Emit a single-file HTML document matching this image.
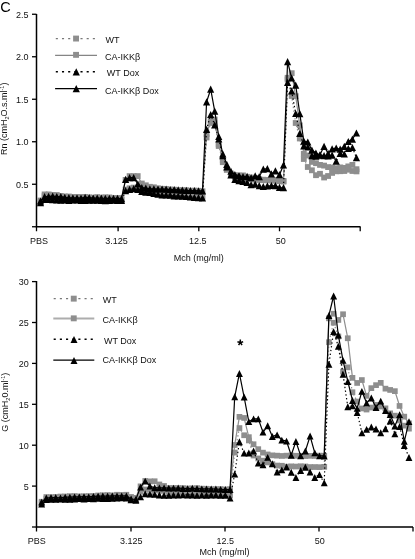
<!DOCTYPE html>
<html><head><meta charset="utf-8"><title>Chart</title>
<style>
html,body{margin:0;padding:0;background:#fff;}
body{width:415px;height:559px;overflow:hidden;font-family:"Liberation Sans",sans-serif;}
svg{display:block;will-change:transform;opacity:0.999}
.t{font-family:"Liberation Sans",sans-serif;font-size:9px;fill:#111;}
</style></head><body>
<svg width="415" height="559" viewBox="0 0 415 559">
<rect width="415" height="559" fill="#fff"/>
<path d="M36.5 14V226.75H360.5" fill="none" stroke="#000" stroke-width="1.5"/>
<line x1="32" y1="226.75" x2="36.5" y2="226.75" stroke="#000" stroke-width="1.3"/>
<line x1="32" y1="184.25" x2="36.5" y2="184.25" stroke="#000" stroke-width="1.3"/>
<text x="28.4" y="187.85" class="t" text-anchor="end">0.5</text>
<line x1="32" y1="141.75" x2="36.5" y2="141.75" stroke="#000" stroke-width="1.3"/>
<text x="28.4" y="145.35" class="t" text-anchor="end">1.0</text>
<line x1="32" y1="99.25" x2="36.5" y2="99.25" stroke="#000" stroke-width="1.3"/>
<text x="28.4" y="102.85" class="t" text-anchor="end">1.5</text>
<line x1="32" y1="56.75" x2="36.5" y2="56.75" stroke="#000" stroke-width="1.3"/>
<text x="28.4" y="60.35" class="t" text-anchor="end">2.0</text>
<line x1="32" y1="14.25" x2="36.5" y2="14.25" stroke="#000" stroke-width="1.3"/>
<text x="28.4" y="17.85" class="t" text-anchor="end">2.5</text>
<line x1="36.5" y1="226.75" x2="36.5" y2="231.25" stroke="#000" stroke-width="1.3"/>
<text x="39" y="243.5" class="t" text-anchor="middle">PBS</text>
<line x1="118.1" y1="226.75" x2="118.1" y2="231.25" stroke="#000" stroke-width="1.3"/>
<text x="116.4" y="243.5" class="t" text-anchor="middle">3.125</text>
<line x1="198.8" y1="226.75" x2="198.8" y2="231.25" stroke="#000" stroke-width="1.3"/>
<text x="197.8" y="243.5" class="t" text-anchor="middle">12.5</text>
<line x1="279.5" y1="226.75" x2="279.5" y2="231.25" stroke="#000" stroke-width="1.3"/>
<text x="280.7" y="243.5" class="t" text-anchor="middle">50</text>
<line x1="360.2" y1="226.75" x2="360.2" y2="231.25" stroke="#000" stroke-width="1.3"/>
<text x="198.8" y="260.5" class="t" text-anchor="middle">Mch (mg/ml)</text>
<text transform="translate(7.3,118.8) rotate(-90)" class="t" text-anchor="middle">Rn (cmH<tspan dy="2" font-size="5.5">2</tspan><tspan dy="-2">O.s.ml</tspan><tspan dy="-3" font-size="5.5">-1</tspan><tspan dy="3">)</tspan></text>
<line x1="55.1" y1="38.6" x2="97" y2="38.6" stroke="#787878" stroke-width="1.4" stroke-dasharray="2.1 4.07" stroke-dashoffset="5.47"/>
<rect x="73.1" y="35.6" width="5.9" height="5.9" fill="#8e8e8e"/>
<text x="105.5" y="43.4" class="t">WT</text>
<line x1="55.1" y1="55.45" x2="97" y2="55.45" stroke="#858585" stroke-width="1.25"/>
<rect x="73.1" y="51.9" width="5.9" height="5.9" fill="#8e8e8e"/>
<text x="105" y="59.8" class="t">CA-IKKβ</text>
<line x1="55.1" y1="71.7" x2="97" y2="71.7" stroke="#000" stroke-width="1.4" stroke-dasharray="2.1 4.07" stroke-dashoffset="5.47"/>
<path d="M76.25 68.25L79.90 75.55H72.60Z" fill="#000"/>
<text x="106.8" y="75.9" class="t">WT Dox</text>
<line x1="55.1" y1="88.5" x2="97" y2="88.5" stroke="#000" stroke-width="1.25"/>
<path d="M76.25 85.05L79.90 92.35H72.60Z" fill="#000"/>
<text x="105" y="93.7" class="t">CA-IKKβ Dox</text>
<polyline points="40.5,201.4 44.6,196.1 48.6,196.5 52.7,196.5 56.8,197.0 60.8,197.9 64.8,198.5 68.9,198.5 72.9,199.0 77.0,199.1 81.0,198.7 85.1,199.1 89.2,199.0 93.2,199.3 97.2,199.3 101.3,199.7 105.3,199.5 109.4,199.4 113.5,199.8 117.5,199.7 121.5,199.9 125.6,189.6 129.6,188.3 133.7,187.6 137.8,189.1 141.8,190.5 145.8,190.8 149.9,191.9 153.9,192.6 158.0,193.3 162.1,193.8 166.1,193.9 170.2,194.6 174.2,194.6 178.2,195.2 182.3,195.2 186.3,195.5 190.4,196.3 194.4,196.6 198.5,196.9 202.5,196.7 206.6,137.5 210.7,123.0 214.7,123.2 218.8,146.0 222.8,162.2 226.8,169.9 230.9,174.8 234.9,177.4 239.0,178.0 243.0,178.6 247.1,178.9 251.1,179.3 255.2,179.7 259.2,179.9 263.3,180.2 267.4,180.2 271.4,180.5 275.4,180.6 279.5,181.2 283.5,181.6 287.6,79.5 291.6,96.0 295.7,123.0 299.8,138.5 303.8,159.0 307.8,167.0 311.9,170.3 315.9,175.2 320.0,173.8 324.1,177.5 328.1,176.0 332.1,172.9 336.2,171.3 340.2,171.2 344.3,171.0 348.3,169.7 352.4,171.0 356.4,171.4" fill="none" stroke="#8e8e8e" stroke-width="1.2" stroke-dasharray="1.4 2.4"/>
<rect x="37.6" y="198.5" width="5.8" height="5.8" fill="#8e8e8e"/>
<rect x="41.7" y="193.2" width="5.8" height="5.8" fill="#8e8e8e"/>
<rect x="45.8" y="193.6" width="5.8" height="5.8" fill="#8e8e8e"/>
<rect x="49.8" y="193.6" width="5.8" height="5.8" fill="#8e8e8e"/>
<rect x="53.9" y="194.1" width="5.8" height="5.8" fill="#8e8e8e"/>
<rect x="57.9" y="195.0" width="5.8" height="5.8" fill="#8e8e8e"/>
<rect x="61.9" y="195.6" width="5.8" height="5.8" fill="#8e8e8e"/>
<rect x="66.0" y="195.6" width="5.8" height="5.8" fill="#8e8e8e"/>
<rect x="70.0" y="196.1" width="5.8" height="5.8" fill="#8e8e8e"/>
<rect x="74.1" y="196.2" width="5.8" height="5.8" fill="#8e8e8e"/>
<rect x="78.1" y="195.8" width="5.8" height="5.8" fill="#8e8e8e"/>
<rect x="82.2" y="196.2" width="5.8" height="5.8" fill="#8e8e8e"/>
<rect x="86.2" y="196.1" width="5.8" height="5.8" fill="#8e8e8e"/>
<rect x="90.3" y="196.4" width="5.8" height="5.8" fill="#8e8e8e"/>
<rect x="94.3" y="196.4" width="5.8" height="5.8" fill="#8e8e8e"/>
<rect x="98.4" y="196.8" width="5.8" height="5.8" fill="#8e8e8e"/>
<rect x="102.4" y="196.6" width="5.8" height="5.8" fill="#8e8e8e"/>
<rect x="106.5" y="196.5" width="5.8" height="5.8" fill="#8e8e8e"/>
<rect x="110.5" y="196.9" width="5.8" height="5.8" fill="#8e8e8e"/>
<rect x="114.6" y="196.8" width="5.8" height="5.8" fill="#8e8e8e"/>
<rect x="118.6" y="197.0" width="5.8" height="5.8" fill="#8e8e8e"/>
<rect x="122.7" y="186.7" width="5.8" height="5.8" fill="#8e8e8e"/>
<rect x="126.7" y="185.4" width="5.8" height="5.8" fill="#8e8e8e"/>
<rect x="130.8" y="184.7" width="5.8" height="5.8" fill="#8e8e8e"/>
<rect x="134.8" y="186.2" width="5.8" height="5.8" fill="#8e8e8e"/>
<rect x="138.9" y="187.6" width="5.8" height="5.8" fill="#8e8e8e"/>
<rect x="142.9" y="187.9" width="5.8" height="5.8" fill="#8e8e8e"/>
<rect x="147.0" y="189.0" width="5.8" height="5.8" fill="#8e8e8e"/>
<rect x="151.0" y="189.7" width="5.8" height="5.8" fill="#8e8e8e"/>
<rect x="155.1" y="190.4" width="5.8" height="5.8" fill="#8e8e8e"/>
<rect x="159.2" y="190.9" width="5.8" height="5.8" fill="#8e8e8e"/>
<rect x="163.2" y="191.0" width="5.8" height="5.8" fill="#8e8e8e"/>
<rect x="167.2" y="191.7" width="5.8" height="5.8" fill="#8e8e8e"/>
<rect x="171.3" y="191.7" width="5.8" height="5.8" fill="#8e8e8e"/>
<rect x="175.3" y="192.3" width="5.8" height="5.8" fill="#8e8e8e"/>
<rect x="179.4" y="192.3" width="5.8" height="5.8" fill="#8e8e8e"/>
<rect x="183.4" y="192.6" width="5.8" height="5.8" fill="#8e8e8e"/>
<rect x="187.5" y="193.4" width="5.8" height="5.8" fill="#8e8e8e"/>
<rect x="191.5" y="193.7" width="5.8" height="5.8" fill="#8e8e8e"/>
<rect x="195.6" y="194.0" width="5.8" height="5.8" fill="#8e8e8e"/>
<rect x="199.6" y="193.8" width="5.8" height="5.8" fill="#8e8e8e"/>
<rect x="203.7" y="134.6" width="5.8" height="5.8" fill="#8e8e8e"/>
<rect x="207.8" y="120.1" width="5.8" height="5.8" fill="#8e8e8e"/>
<rect x="211.8" y="120.3" width="5.8" height="5.8" fill="#8e8e8e"/>
<rect x="215.8" y="143.1" width="5.8" height="5.8" fill="#8e8e8e"/>
<rect x="219.9" y="159.3" width="5.8" height="5.8" fill="#8e8e8e"/>
<rect x="223.9" y="167.0" width="5.8" height="5.8" fill="#8e8e8e"/>
<rect x="228.0" y="171.9" width="5.8" height="5.8" fill="#8e8e8e"/>
<rect x="232.0" y="174.5" width="5.8" height="5.8" fill="#8e8e8e"/>
<rect x="236.1" y="175.1" width="5.8" height="5.8" fill="#8e8e8e"/>
<rect x="240.1" y="175.7" width="5.8" height="5.8" fill="#8e8e8e"/>
<rect x="244.2" y="176.0" width="5.8" height="5.8" fill="#8e8e8e"/>
<rect x="248.2" y="176.4" width="5.8" height="5.8" fill="#8e8e8e"/>
<rect x="252.3" y="176.8" width="5.8" height="5.8" fill="#8e8e8e"/>
<rect x="256.4" y="177.0" width="5.8" height="5.8" fill="#8e8e8e"/>
<rect x="260.4" y="177.3" width="5.8" height="5.8" fill="#8e8e8e"/>
<rect x="264.5" y="177.3" width="5.8" height="5.8" fill="#8e8e8e"/>
<rect x="268.5" y="177.6" width="5.8" height="5.8" fill="#8e8e8e"/>
<rect x="272.6" y="177.7" width="5.8" height="5.8" fill="#8e8e8e"/>
<rect x="276.6" y="178.3" width="5.8" height="5.8" fill="#8e8e8e"/>
<rect x="280.6" y="178.7" width="5.8" height="5.8" fill="#8e8e8e"/>
<rect x="284.7" y="76.6" width="5.8" height="5.8" fill="#8e8e8e"/>
<rect x="288.8" y="93.1" width="5.8" height="5.8" fill="#8e8e8e"/>
<rect x="292.8" y="120.1" width="5.8" height="5.8" fill="#8e8e8e"/>
<rect x="296.9" y="135.6" width="5.8" height="5.8" fill="#8e8e8e"/>
<rect x="300.9" y="156.1" width="5.8" height="5.8" fill="#8e8e8e"/>
<rect x="304.9" y="164.1" width="5.8" height="5.8" fill="#8e8e8e"/>
<rect x="309.0" y="167.4" width="5.8" height="5.8" fill="#8e8e8e"/>
<rect x="313.1" y="172.3" width="5.8" height="5.8" fill="#8e8e8e"/>
<rect x="317.1" y="170.9" width="5.8" height="5.8" fill="#8e8e8e"/>
<rect x="321.2" y="174.6" width="5.8" height="5.8" fill="#8e8e8e"/>
<rect x="325.2" y="173.1" width="5.8" height="5.8" fill="#8e8e8e"/>
<rect x="329.2" y="170.0" width="5.8" height="5.8" fill="#8e8e8e"/>
<rect x="333.3" y="168.4" width="5.8" height="5.8" fill="#8e8e8e"/>
<rect x="337.4" y="168.3" width="5.8" height="5.8" fill="#8e8e8e"/>
<rect x="341.4" y="168.1" width="5.8" height="5.8" fill="#8e8e8e"/>
<rect x="345.4" y="166.8" width="5.8" height="5.8" fill="#8e8e8e"/>
<rect x="349.5" y="168.1" width="5.8" height="5.8" fill="#8e8e8e"/>
<rect x="353.6" y="168.5" width="5.8" height="5.8" fill="#8e8e8e"/>
<polyline points="40.5,200.5 44.6,194.4 48.6,194.4 52.7,194.9 56.8,195.0 60.8,195.9 64.8,196.4 68.9,196.5 72.9,197.0 77.0,197.0 81.0,197.0 85.1,196.9 89.2,197.4 93.2,197.6 97.2,197.1 101.3,197.6 105.3,197.3 109.4,197.4 113.5,197.9 117.5,197.9 121.5,198.0 125.6,179.9 129.6,176.1 133.7,176.1 137.8,176.1 141.8,183.5 145.8,185.3 149.9,186.8 153.9,187.3 158.0,188.3 162.1,188.8 166.1,189.0 170.2,189.5 174.2,189.7 178.2,190.2 182.3,190.2 186.3,190.2 190.4,190.8 194.4,190.6 198.5,190.8 202.5,191.3 206.6,134.0 210.7,120.5 214.7,119.5 218.8,144.4 222.8,160.3 226.8,168.8 230.9,173.5 234.9,175.2 239.0,175.6 243.0,175.4 247.1,176.8 251.1,177.5 255.2,178.2 259.2,179.3 263.3,179.7 267.4,180.1 271.4,180.1 275.4,179.9 279.5,180.6 283.5,180.9 287.6,77.8 291.6,73.2 295.7,96.2 299.8,125.4 303.8,153.8 307.8,155.5 311.9,161.9 315.9,163.2 320.0,164.9 324.1,165.6 328.1,167.1 332.1,167.5 336.2,168.2 340.2,167.4 344.3,167.9 348.3,166.4 352.4,164.9 356.4,169.2" fill="none" stroke="#8e8e8e" stroke-width="1.2"/>
<rect x="37.6" y="197.6" width="5.8" height="5.8" fill="#8e8e8e"/>
<rect x="41.7" y="191.5" width="5.8" height="5.8" fill="#8e8e8e"/>
<rect x="45.8" y="191.5" width="5.8" height="5.8" fill="#8e8e8e"/>
<rect x="49.8" y="192.0" width="5.8" height="5.8" fill="#8e8e8e"/>
<rect x="53.9" y="192.1" width="5.8" height="5.8" fill="#8e8e8e"/>
<rect x="57.9" y="193.0" width="5.8" height="5.8" fill="#8e8e8e"/>
<rect x="61.9" y="193.5" width="5.8" height="5.8" fill="#8e8e8e"/>
<rect x="66.0" y="193.6" width="5.8" height="5.8" fill="#8e8e8e"/>
<rect x="70.0" y="194.1" width="5.8" height="5.8" fill="#8e8e8e"/>
<rect x="74.1" y="194.1" width="5.8" height="5.8" fill="#8e8e8e"/>
<rect x="78.1" y="194.1" width="5.8" height="5.8" fill="#8e8e8e"/>
<rect x="82.2" y="194.0" width="5.8" height="5.8" fill="#8e8e8e"/>
<rect x="86.2" y="194.5" width="5.8" height="5.8" fill="#8e8e8e"/>
<rect x="90.3" y="194.7" width="5.8" height="5.8" fill="#8e8e8e"/>
<rect x="94.3" y="194.2" width="5.8" height="5.8" fill="#8e8e8e"/>
<rect x="98.4" y="194.7" width="5.8" height="5.8" fill="#8e8e8e"/>
<rect x="102.4" y="194.4" width="5.8" height="5.8" fill="#8e8e8e"/>
<rect x="106.5" y="194.5" width="5.8" height="5.8" fill="#8e8e8e"/>
<rect x="110.5" y="195.0" width="5.8" height="5.8" fill="#8e8e8e"/>
<rect x="114.6" y="195.0" width="5.8" height="5.8" fill="#8e8e8e"/>
<rect x="118.6" y="195.1" width="5.8" height="5.8" fill="#8e8e8e"/>
<rect x="122.7" y="177.0" width="5.8" height="5.8" fill="#8e8e8e"/>
<rect x="126.7" y="173.2" width="5.8" height="5.8" fill="#8e8e8e"/>
<rect x="130.8" y="173.2" width="5.8" height="5.8" fill="#8e8e8e"/>
<rect x="134.8" y="173.2" width="5.8" height="5.8" fill="#8e8e8e"/>
<rect x="138.9" y="180.6" width="5.8" height="5.8" fill="#8e8e8e"/>
<rect x="142.9" y="182.4" width="5.8" height="5.8" fill="#8e8e8e"/>
<rect x="147.0" y="183.9" width="5.8" height="5.8" fill="#8e8e8e"/>
<rect x="151.0" y="184.4" width="5.8" height="5.8" fill="#8e8e8e"/>
<rect x="155.1" y="185.4" width="5.8" height="5.8" fill="#8e8e8e"/>
<rect x="159.2" y="185.9" width="5.8" height="5.8" fill="#8e8e8e"/>
<rect x="163.2" y="186.1" width="5.8" height="5.8" fill="#8e8e8e"/>
<rect x="167.2" y="186.6" width="5.8" height="5.8" fill="#8e8e8e"/>
<rect x="171.3" y="186.8" width="5.8" height="5.8" fill="#8e8e8e"/>
<rect x="175.3" y="187.3" width="5.8" height="5.8" fill="#8e8e8e"/>
<rect x="179.4" y="187.3" width="5.8" height="5.8" fill="#8e8e8e"/>
<rect x="183.4" y="187.3" width="5.8" height="5.8" fill="#8e8e8e"/>
<rect x="187.5" y="187.9" width="5.8" height="5.8" fill="#8e8e8e"/>
<rect x="191.5" y="187.7" width="5.8" height="5.8" fill="#8e8e8e"/>
<rect x="195.6" y="187.9" width="5.8" height="5.8" fill="#8e8e8e"/>
<rect x="199.6" y="188.4" width="5.8" height="5.8" fill="#8e8e8e"/>
<rect x="203.7" y="131.1" width="5.8" height="5.8" fill="#8e8e8e"/>
<rect x="207.8" y="117.6" width="5.8" height="5.8" fill="#8e8e8e"/>
<rect x="211.8" y="116.6" width="5.8" height="5.8" fill="#8e8e8e"/>
<rect x="215.8" y="141.5" width="5.8" height="5.8" fill="#8e8e8e"/>
<rect x="219.9" y="157.4" width="5.8" height="5.8" fill="#8e8e8e"/>
<rect x="223.9" y="165.9" width="5.8" height="5.8" fill="#8e8e8e"/>
<rect x="228.0" y="170.6" width="5.8" height="5.8" fill="#8e8e8e"/>
<rect x="232.0" y="172.3" width="5.8" height="5.8" fill="#8e8e8e"/>
<rect x="236.1" y="172.7" width="5.8" height="5.8" fill="#8e8e8e"/>
<rect x="240.1" y="172.5" width="5.8" height="5.8" fill="#8e8e8e"/>
<rect x="244.2" y="173.9" width="5.8" height="5.8" fill="#8e8e8e"/>
<rect x="248.2" y="174.6" width="5.8" height="5.8" fill="#8e8e8e"/>
<rect x="252.3" y="175.3" width="5.8" height="5.8" fill="#8e8e8e"/>
<rect x="256.4" y="176.4" width="5.8" height="5.8" fill="#8e8e8e"/>
<rect x="260.4" y="176.8" width="5.8" height="5.8" fill="#8e8e8e"/>
<rect x="264.5" y="177.2" width="5.8" height="5.8" fill="#8e8e8e"/>
<rect x="268.5" y="177.2" width="5.8" height="5.8" fill="#8e8e8e"/>
<rect x="272.6" y="177.0" width="5.8" height="5.8" fill="#8e8e8e"/>
<rect x="276.6" y="177.7" width="5.8" height="5.8" fill="#8e8e8e"/>
<rect x="280.6" y="178.0" width="5.8" height="5.8" fill="#8e8e8e"/>
<rect x="284.7" y="74.9" width="5.8" height="5.8" fill="#8e8e8e"/>
<rect x="288.8" y="70.3" width="5.8" height="5.8" fill="#8e8e8e"/>
<rect x="292.8" y="93.3" width="5.8" height="5.8" fill="#8e8e8e"/>
<rect x="296.9" y="122.5" width="5.8" height="5.8" fill="#8e8e8e"/>
<rect x="300.9" y="150.9" width="5.8" height="5.8" fill="#8e8e8e"/>
<rect x="304.9" y="152.6" width="5.8" height="5.8" fill="#8e8e8e"/>
<rect x="309.0" y="159.0" width="5.8" height="5.8" fill="#8e8e8e"/>
<rect x="313.1" y="160.3" width="5.8" height="5.8" fill="#8e8e8e"/>
<rect x="317.1" y="162.0" width="5.8" height="5.8" fill="#8e8e8e"/>
<rect x="321.2" y="162.7" width="5.8" height="5.8" fill="#8e8e8e"/>
<rect x="325.2" y="164.2" width="5.8" height="5.8" fill="#8e8e8e"/>
<rect x="329.2" y="164.6" width="5.8" height="5.8" fill="#8e8e8e"/>
<rect x="333.3" y="165.3" width="5.8" height="5.8" fill="#8e8e8e"/>
<rect x="337.4" y="164.5" width="5.8" height="5.8" fill="#8e8e8e"/>
<rect x="341.4" y="165.0" width="5.8" height="5.8" fill="#8e8e8e"/>
<rect x="345.4" y="163.5" width="5.8" height="5.8" fill="#8e8e8e"/>
<rect x="349.5" y="162.0" width="5.8" height="5.8" fill="#8e8e8e"/>
<rect x="353.6" y="166.3" width="5.8" height="5.8" fill="#8e8e8e"/>
<polyline points="40.5,202.6 44.6,199.4 48.6,199.3 52.7,199.6 56.8,199.9 60.8,200.1 64.8,200.0 68.9,200.4 72.9,200.0 77.0,200.0 81.0,200.5 85.1,200.4 89.2,200.1 93.2,200.2 97.2,200.1 101.3,200.4 105.3,200.6 109.4,200.5 113.5,200.2 117.5,200.5 121.5,200.5 125.6,190.7 129.6,189.4 133.7,188.6 137.8,189.5 141.8,191.3 145.8,192.2 149.9,192.4 153.9,193.3 158.0,194.1 162.1,194.8 166.1,194.8 170.2,195.1 174.2,195.9 178.2,195.8 182.3,196.1 186.3,196.5 190.4,196.9 194.4,197.4 198.5,197.6 202.5,198.0 206.6,129.3 210.7,114.5 214.7,124.9 218.8,139.0 222.8,155.7 226.8,167.0 230.9,174.8 234.9,179.3 239.0,180.6 243.0,181.4 247.1,182.5 251.1,184.6 255.2,184.1 259.2,185.7 263.3,186.5 267.4,185.8 271.4,185.5 275.4,185.6 279.5,187.4 283.5,187.6 287.6,82.4 291.6,90.9 295.7,113.5 299.8,133.3 303.8,145.8 307.8,147.0 311.9,155.6 315.9,156.2 320.0,155.1 324.1,155.6 328.1,156.0 332.1,155.1 336.2,161.1 340.2,153.4 344.3,154.0 348.3,148.5 352.4,147.5 356.4,157.7" fill="none" stroke="#000" stroke-width="1.2" stroke-dasharray="1.4 2.4"/>
<path d="M40.5 199.0L44.1 206.2H36.9Z" fill="#000"/>
<path d="M44.6 195.8L48.2 203.0H41.0Z" fill="#000"/>
<path d="M48.6 195.7L52.2 202.9H45.0Z" fill="#000"/>
<path d="M52.7 196.0L56.3 203.2H49.1Z" fill="#000"/>
<path d="M56.8 196.3L60.4 203.5H53.1Z" fill="#000"/>
<path d="M60.8 196.5L64.4 203.7H57.2Z" fill="#000"/>
<path d="M64.8 196.4L68.4 203.6H61.2Z" fill="#000"/>
<path d="M68.9 196.8L72.5 204.0H65.3Z" fill="#000"/>
<path d="M72.9 196.4L76.5 203.6H69.3Z" fill="#000"/>
<path d="M77.0 196.4L80.6 203.6H73.4Z" fill="#000"/>
<path d="M81.0 196.9L84.6 204.1H77.5Z" fill="#000"/>
<path d="M85.1 196.8L88.7 204.0H81.5Z" fill="#000"/>
<path d="M89.2 196.5L92.8 203.7H85.6Z" fill="#000"/>
<path d="M93.2 196.6L96.8 203.8H89.6Z" fill="#000"/>
<path d="M97.2 196.5L100.8 203.7H93.7Z" fill="#000"/>
<path d="M101.3 196.8L104.9 204.0H97.7Z" fill="#000"/>
<path d="M105.3 197.0L108.9 204.2H101.8Z" fill="#000"/>
<path d="M109.4 196.9L113.0 204.1H105.8Z" fill="#000"/>
<path d="M113.5 196.6L117.0 203.8H109.9Z" fill="#000"/>
<path d="M117.5 196.9L121.1 204.1H113.9Z" fill="#000"/>
<path d="M121.5 196.9L125.1 204.1H118.0Z" fill="#000"/>
<path d="M125.6 187.1L129.2 194.3H122.0Z" fill="#000"/>
<path d="M129.6 185.8L133.2 193.0H126.0Z" fill="#000"/>
<path d="M133.7 185.0L137.3 192.2H130.1Z" fill="#000"/>
<path d="M137.8 185.9L141.3 193.1H134.2Z" fill="#000"/>
<path d="M141.8 187.7L145.4 194.9H138.2Z" fill="#000"/>
<path d="M145.8 188.6L149.4 195.8H142.2Z" fill="#000"/>
<path d="M149.9 188.8L153.5 196.0H146.3Z" fill="#000"/>
<path d="M153.9 189.7L157.5 196.9H150.3Z" fill="#000"/>
<path d="M158.0 190.5L161.6 197.7H154.4Z" fill="#000"/>
<path d="M162.1 191.2L165.7 198.4H158.5Z" fill="#000"/>
<path d="M166.1 191.2L169.7 198.4H162.5Z" fill="#000"/>
<path d="M170.2 191.5L173.8 198.7H166.6Z" fill="#000"/>
<path d="M174.2 192.3L177.8 199.5H170.6Z" fill="#000"/>
<path d="M178.2 192.2L181.8 199.4H174.7Z" fill="#000"/>
<path d="M182.3 192.5L185.9 199.7H178.7Z" fill="#000"/>
<path d="M186.3 192.9L189.9 200.1H182.8Z" fill="#000"/>
<path d="M190.4 193.3L194.0 200.5H186.8Z" fill="#000"/>
<path d="M194.4 193.8L198.0 201.0H190.8Z" fill="#000"/>
<path d="M198.5 194.0L202.1 201.2H194.9Z" fill="#000"/>
<path d="M202.5 194.4L206.1 201.6H198.9Z" fill="#000"/>
<path d="M206.6 125.7L210.2 132.9H203.0Z" fill="#000"/>
<path d="M210.7 110.9L214.2 118.1H207.1Z" fill="#000"/>
<path d="M214.7 121.3L218.3 128.5H211.1Z" fill="#000"/>
<path d="M218.8 135.4L222.3 142.6H215.2Z" fill="#000"/>
<path d="M222.8 152.1L226.4 159.3H219.2Z" fill="#000"/>
<path d="M226.8 163.4L230.4 170.6H223.2Z" fill="#000"/>
<path d="M230.9 171.2L234.5 178.4H227.3Z" fill="#000"/>
<path d="M234.9 175.7L238.5 182.9H231.3Z" fill="#000"/>
<path d="M239.0 177.0L242.6 184.2H235.4Z" fill="#000"/>
<path d="M243.0 177.8L246.6 185.0H239.4Z" fill="#000"/>
<path d="M247.1 178.9L250.7 186.1H243.5Z" fill="#000"/>
<path d="M251.1 181.0L254.7 188.2H247.5Z" fill="#000"/>
<path d="M255.2 180.5L258.8 187.7H251.6Z" fill="#000"/>
<path d="M259.2 182.1L262.9 189.3H255.7Z" fill="#000"/>
<path d="M263.3 182.9L266.9 190.1H259.7Z" fill="#000"/>
<path d="M267.4 182.2L271.0 189.4H263.8Z" fill="#000"/>
<path d="M271.4 181.9L275.0 189.1H267.8Z" fill="#000"/>
<path d="M275.4 182.0L279.1 189.2H271.8Z" fill="#000"/>
<path d="M279.5 183.8L283.1 191.0H275.9Z" fill="#000"/>
<path d="M283.5 184.0L287.1 191.2H279.9Z" fill="#000"/>
<path d="M287.6 78.8L291.2 86.0H284.0Z" fill="#000"/>
<path d="M291.6 87.3L295.2 94.5H288.0Z" fill="#000"/>
<path d="M295.7 109.9L299.3 117.1H292.1Z" fill="#000"/>
<path d="M299.8 129.7L303.4 136.9H296.1Z" fill="#000"/>
<path d="M303.8 142.2L307.4 149.4H300.2Z" fill="#000"/>
<path d="M307.8 143.4L311.4 150.6H304.2Z" fill="#000"/>
<path d="M311.9 152.0L315.5 159.2H308.3Z" fill="#000"/>
<path d="M315.9 152.6L319.6 159.8H312.3Z" fill="#000"/>
<path d="M320.0 151.5L323.6 158.7H316.4Z" fill="#000"/>
<path d="M324.1 152.0L327.7 159.2H320.4Z" fill="#000"/>
<path d="M328.1 152.4L331.7 159.6H324.5Z" fill="#000"/>
<path d="M332.1 151.5L335.8 158.7H328.5Z" fill="#000"/>
<path d="M336.2 157.5L339.8 164.7H332.6Z" fill="#000"/>
<path d="M340.2 149.8L343.9 157.0H336.6Z" fill="#000"/>
<path d="M344.3 150.4L347.9 157.6H340.7Z" fill="#000"/>
<path d="M348.3 144.9L351.9 152.1H344.7Z" fill="#000"/>
<path d="M352.4 143.9L356.0 151.1H348.8Z" fill="#000"/>
<path d="M356.4 154.1L360.1 161.3H352.8Z" fill="#000"/>
<polyline points="40.5,201.0 44.6,196.7 48.6,196.3 52.7,196.2 56.8,196.5 60.8,196.6 64.8,197.4 68.9,197.7 72.9,197.8 77.0,197.9 81.0,198.0 85.1,197.4 89.2,197.6 93.2,198.2 97.2,198.0 101.3,198.2 105.3,198.3 109.4,198.4 113.5,198.3 117.5,198.4 121.5,198.6 125.6,179.4 129.6,177.6 133.7,177.7 137.8,183.8 141.8,187.5 145.8,188.2 149.9,188.8 153.9,188.9 158.0,189.0 162.1,189.0 166.1,189.1 170.2,189.6 174.2,189.5 178.2,189.8 182.3,190.1 186.3,190.4 190.4,190.5 194.4,190.5 198.5,190.9 202.5,190.9 206.6,101.8 210.7,89.2 214.7,111.1 218.8,136.5 222.8,153.9 226.8,164.3 230.9,171.1 234.9,174.6 239.0,175.5 243.0,176.7 247.1,176.3 251.1,177.7 255.2,175.9 259.2,176.6 263.3,169.2 267.4,168.7 271.4,173.9 275.4,170.8 279.5,174.7 283.5,165.0 287.6,61.7 291.6,78.0 295.7,85.1 299.8,113.6 303.8,141.2 307.8,142.0 311.9,150.1 315.9,153.1 320.0,154.8 324.1,146.3 328.1,153.4 332.1,148.8 336.2,148.0 340.2,149.2 344.3,146.3 348.3,141.5 352.4,139.1 356.4,133.0" fill="none" stroke="#000" stroke-width="1.2"/>
<path d="M40.5 197.4L44.1 204.6H36.9Z" fill="#000"/>
<path d="M44.6 193.1L48.2 200.3H41.0Z" fill="#000"/>
<path d="M48.6 192.7L52.2 199.9H45.0Z" fill="#000"/>
<path d="M52.7 192.6L56.3 199.8H49.1Z" fill="#000"/>
<path d="M56.8 192.9L60.4 200.1H53.1Z" fill="#000"/>
<path d="M60.8 193.0L64.4 200.2H57.2Z" fill="#000"/>
<path d="M64.8 193.8L68.4 201.0H61.2Z" fill="#000"/>
<path d="M68.9 194.1L72.5 201.3H65.3Z" fill="#000"/>
<path d="M72.9 194.2L76.5 201.4H69.3Z" fill="#000"/>
<path d="M77.0 194.3L80.6 201.5H73.4Z" fill="#000"/>
<path d="M81.0 194.4L84.6 201.6H77.5Z" fill="#000"/>
<path d="M85.1 193.8L88.7 201.0H81.5Z" fill="#000"/>
<path d="M89.2 194.0L92.8 201.2H85.6Z" fill="#000"/>
<path d="M93.2 194.6L96.8 201.8H89.6Z" fill="#000"/>
<path d="M97.2 194.4L100.8 201.6H93.7Z" fill="#000"/>
<path d="M101.3 194.6L104.9 201.8H97.7Z" fill="#000"/>
<path d="M105.3 194.7L108.9 201.9H101.8Z" fill="#000"/>
<path d="M109.4 194.8L113.0 202.0H105.8Z" fill="#000"/>
<path d="M113.5 194.7L117.0 201.9H109.9Z" fill="#000"/>
<path d="M117.5 194.8L121.1 202.0H113.9Z" fill="#000"/>
<path d="M121.5 195.0L125.1 202.2H118.0Z" fill="#000"/>
<path d="M125.6 175.8L129.2 183.0H122.0Z" fill="#000"/>
<path d="M129.6 174.0L133.2 181.2H126.0Z" fill="#000"/>
<path d="M133.7 174.1L137.3 181.3H130.1Z" fill="#000"/>
<path d="M137.8 180.2L141.3 187.4H134.2Z" fill="#000"/>
<path d="M141.8 183.9L145.4 191.1H138.2Z" fill="#000"/>
<path d="M145.8 184.6L149.4 191.8H142.2Z" fill="#000"/>
<path d="M149.9 185.2L153.5 192.4H146.3Z" fill="#000"/>
<path d="M153.9 185.3L157.5 192.5H150.3Z" fill="#000"/>
<path d="M158.0 185.4L161.6 192.6H154.4Z" fill="#000"/>
<path d="M162.1 185.4L165.7 192.6H158.5Z" fill="#000"/>
<path d="M166.1 185.5L169.7 192.7H162.5Z" fill="#000"/>
<path d="M170.2 186.0L173.8 193.2H166.6Z" fill="#000"/>
<path d="M174.2 185.9L177.8 193.1H170.6Z" fill="#000"/>
<path d="M178.2 186.2L181.8 193.4H174.7Z" fill="#000"/>
<path d="M182.3 186.5L185.9 193.7H178.7Z" fill="#000"/>
<path d="M186.3 186.8L189.9 194.0H182.8Z" fill="#000"/>
<path d="M190.4 186.9L194.0 194.1H186.8Z" fill="#000"/>
<path d="M194.4 186.9L198.0 194.1H190.8Z" fill="#000"/>
<path d="M198.5 187.3L202.1 194.5H194.9Z" fill="#000"/>
<path d="M202.5 187.3L206.1 194.5H198.9Z" fill="#000"/>
<path d="M206.6 98.2L210.2 105.4H203.0Z" fill="#000"/>
<path d="M210.7 85.6L214.2 92.8H207.1Z" fill="#000"/>
<path d="M214.7 107.5L218.3 114.7H211.1Z" fill="#000"/>
<path d="M218.8 132.9L222.3 140.1H215.2Z" fill="#000"/>
<path d="M222.8 150.3L226.4 157.5H219.2Z" fill="#000"/>
<path d="M226.8 160.7L230.4 167.9H223.2Z" fill="#000"/>
<path d="M230.9 167.5L234.5 174.7H227.3Z" fill="#000"/>
<path d="M234.9 171.0L238.5 178.2H231.3Z" fill="#000"/>
<path d="M239.0 171.9L242.6 179.1H235.4Z" fill="#000"/>
<path d="M243.0 173.1L246.6 180.3H239.4Z" fill="#000"/>
<path d="M247.1 172.7L250.7 179.9H243.5Z" fill="#000"/>
<path d="M251.1 174.1L254.7 181.3H247.5Z" fill="#000"/>
<path d="M255.2 172.3L258.8 179.5H251.6Z" fill="#000"/>
<path d="M259.2 173.0L262.9 180.2H255.7Z" fill="#000"/>
<path d="M263.3 165.6L266.9 172.8H259.7Z" fill="#000"/>
<path d="M267.4 165.1L271.0 172.3H263.8Z" fill="#000"/>
<path d="M271.4 170.3L275.0 177.5H267.8Z" fill="#000"/>
<path d="M275.4 167.2L279.1 174.4H271.8Z" fill="#000"/>
<path d="M279.5 171.1L283.1 178.3H275.9Z" fill="#000"/>
<path d="M283.5 161.4L287.1 168.6H279.9Z" fill="#000"/>
<path d="M287.6 58.1L291.2 65.3H284.0Z" fill="#000"/>
<path d="M291.6 74.4L295.2 81.6H288.0Z" fill="#000"/>
<path d="M295.7 81.5L299.3 88.7H292.1Z" fill="#000"/>
<path d="M299.8 110.0L303.4 117.2H296.1Z" fill="#000"/>
<path d="M303.8 137.6L307.4 144.8H300.2Z" fill="#000"/>
<path d="M307.8 138.4L311.4 145.6H304.2Z" fill="#000"/>
<path d="M311.9 146.5L315.5 153.7H308.3Z" fill="#000"/>
<path d="M315.9 149.5L319.6 156.7H312.3Z" fill="#000"/>
<path d="M320.0 151.2L323.6 158.4H316.4Z" fill="#000"/>
<path d="M324.1 142.7L327.7 149.9H320.4Z" fill="#000"/>
<path d="M328.1 149.8L331.7 157.0H324.5Z" fill="#000"/>
<path d="M332.1 145.2L335.8 152.4H328.5Z" fill="#000"/>
<path d="M336.2 144.4L339.8 151.6H332.6Z" fill="#000"/>
<path d="M340.2 145.6L343.9 152.8H336.6Z" fill="#000"/>
<path d="M344.3 142.7L347.9 149.9H340.7Z" fill="#000"/>
<path d="M348.3 137.9L351.9 145.1H344.7Z" fill="#000"/>
<path d="M352.4 135.5L356.0 142.7H348.8Z" fill="#000"/>
<path d="M356.4 129.4L360.1 136.6H352.8Z" fill="#000"/>
<path d="M36.5 281V527.0H413" fill="none" stroke="#000" stroke-width="1.5"/>
<line x1="32" y1="527.0" x2="36.5" y2="527.0" stroke="#000" stroke-width="1.3"/>
<line x1="32" y1="486.1" x2="36.5" y2="486.1" stroke="#000" stroke-width="1.3"/>
<text x="28.7" y="489.70" class="t" text-anchor="end">5</text>
<line x1="32" y1="445.2" x2="36.5" y2="445.2" stroke="#000" stroke-width="1.3"/>
<text x="28.7" y="448.80" class="t" text-anchor="end">10</text>
<line x1="32" y1="404.3" x2="36.5" y2="404.3" stroke="#000" stroke-width="1.3"/>
<text x="28.7" y="407.90" class="t" text-anchor="end">15</text>
<line x1="32" y1="363.4" x2="36.5" y2="363.4" stroke="#000" stroke-width="1.3"/>
<text x="28.7" y="367.00" class="t" text-anchor="end">20</text>
<line x1="32" y1="322.5" x2="36.5" y2="322.5" stroke="#000" stroke-width="1.3"/>
<text x="28.7" y="326.10" class="t" text-anchor="end">25</text>
<line x1="32" y1="281.6" x2="36.5" y2="281.6" stroke="#000" stroke-width="1.3"/>
<text x="28.7" y="285.20" class="t" text-anchor="end">30</text>
<line x1="36.5" y1="527.0" x2="36.5" y2="531.5" stroke="#000" stroke-width="1.3"/>
<text x="36.8" y="543.6" class="t" text-anchor="middle">PBS</text>
<line x1="131" y1="527.0" x2="131" y2="531.5" stroke="#000" stroke-width="1.3"/>
<text x="131.3" y="543.6" class="t" text-anchor="middle">3.125</text>
<line x1="225" y1="527.0" x2="225" y2="531.5" stroke="#000" stroke-width="1.3"/>
<text x="225.3" y="543.6" class="t" text-anchor="middle">12.5</text>
<line x1="319" y1="527.0" x2="319" y2="531.5" stroke="#000" stroke-width="1.3"/>
<text x="319.8" y="543.6" class="t" text-anchor="middle">50</text>
<line x1="413" y1="527.0" x2="413" y2="531.5" stroke="#000" stroke-width="1.3"/>
<text x="224.6" y="555.3" class="t" text-anchor="middle">Mch (mg/ml)</text>
<text transform="translate(7.7,402.2) rotate(-90)" class="t" text-anchor="middle">G (cmH<tspan dy="2" font-size="5.5">2</tspan><tspan dy="-2">0.ml</tspan><tspan dy="-3" font-size="5.5">-1</tspan><tspan dy="3">)</tspan></text>
<line x1="53.3" y1="298.6" x2="94.3" y2="298.6" stroke="#787878" stroke-width="1.4" stroke-dasharray="2.1 4.07" stroke-dashoffset="5.8"/>
<rect x="70.8" y="295.7" width="5.9" height="5.9" fill="#8e8e8e"/>
<text x="102.8" y="302.5" class="t">WT</text>
<line x1="53.3" y1="318.4" x2="94.3" y2="318.4" stroke="#adadad" stroke-width="2.0"/>
<rect x="70.8" y="315.4" width="5.9" height="5.9" fill="#8e8e8e"/>
<text x="102.5" y="322.7" class="t">CA-IKKβ</text>
<line x1="53.3" y1="339.3" x2="94.3" y2="339.3" stroke="#000" stroke-width="1.4" stroke-dasharray="2.1 4.07" stroke-dashoffset="5.8"/>
<path d="M74.00 336.00L77.50 343.00H70.50Z" fill="#000"/>
<text x="104.0" y="343.5" class="t">WT Dox</text>
<line x1="53.3" y1="360.2" x2="94.3" y2="360.2" stroke="#000" stroke-width="1.25"/>
<path d="M74.00 356.90L77.50 363.90H70.50Z" fill="#000"/>
<text x="102.6" y="363.2" class="t">CA-IKKβ Dox</text>
<polyline points="41.6,503.0 46.3,498.7 51.0,498.5 55.7,498.9 60.5,498.3 65.2,498.4 69.9,498.1 74.6,498.4 79.3,497.9 84.0,497.7 88.7,498.2 93.4,497.9 98.1,497.6 102.8,497.4 107.6,497.7 112.3,497.6 117.0,497.5 121.7,497.2 126.4,497.0 131.1,498.4 135.8,498.5 140.5,491.9 145.2,489.5 149.9,489.8 154.7,490.5 159.4,490.7 164.1,490.9 168.8,491.7 173.5,492.0 178.2,492.9 182.9,492.7 187.6,492.8 192.3,493.0 197.0,493.3 201.8,493.5 206.5,493.5 211.2,493.5 215.9,494.2 220.6,494.4 225.3,494.1 230.0,495.6 234.7,452.6 239.4,428.1 244.1,435.2 248.8,440.5 253.6,455.6 258.3,458.5 263.0,460.7 267.7,462.5 272.4,464.2 277.1,465.5 281.8,465.8 286.5,466.6 291.2,466.3 295.9,466.5 300.7,466.2 305.4,466.4 310.1,467.0 314.8,467.1 319.5,467.2 324.2,466.9 328.9,342.2 333.6,322.7 338.3,336.5 343.0,371.7 347.8,367.3 352.5,392.3 357.2,401.5 361.9,408.4 366.6,409.6 371.3,407.6 376.0,404.9 380.7,406.5 385.4,408.4 390.1,413.3 394.9,415.6 399.6,420.4 404.3,425.6 409.0,428.7" fill="none" stroke="#8e8e8e" stroke-width="1.2" stroke-dasharray="1.4 2.4"/>
<rect x="38.8" y="500.1" width="5.7" height="5.7" fill="#8e8e8e"/>
<rect x="43.5" y="495.9" width="5.7" height="5.7" fill="#8e8e8e"/>
<rect x="48.2" y="495.6" width="5.7" height="5.7" fill="#8e8e8e"/>
<rect x="52.9" y="496.0" width="5.7" height="5.7" fill="#8e8e8e"/>
<rect x="57.6" y="495.4" width="5.7" height="5.7" fill="#8e8e8e"/>
<rect x="62.3" y="495.5" width="5.7" height="5.7" fill="#8e8e8e"/>
<rect x="67.0" y="495.3" width="5.7" height="5.7" fill="#8e8e8e"/>
<rect x="71.7" y="495.6" width="5.7" height="5.7" fill="#8e8e8e"/>
<rect x="76.4" y="495.1" width="5.7" height="5.7" fill="#8e8e8e"/>
<rect x="81.2" y="494.8" width="5.7" height="5.7" fill="#8e8e8e"/>
<rect x="85.9" y="495.3" width="5.7" height="5.7" fill="#8e8e8e"/>
<rect x="90.6" y="495.0" width="5.7" height="5.7" fill="#8e8e8e"/>
<rect x="95.3" y="494.8" width="5.7" height="5.7" fill="#8e8e8e"/>
<rect x="100.0" y="494.5" width="5.7" height="5.7" fill="#8e8e8e"/>
<rect x="104.7" y="494.8" width="5.7" height="5.7" fill="#8e8e8e"/>
<rect x="109.4" y="494.8" width="5.7" height="5.7" fill="#8e8e8e"/>
<rect x="114.1" y="494.6" width="5.7" height="5.7" fill="#8e8e8e"/>
<rect x="118.8" y="494.3" width="5.7" height="5.7" fill="#8e8e8e"/>
<rect x="123.5" y="494.1" width="5.7" height="5.7" fill="#8e8e8e"/>
<rect x="128.2" y="495.6" width="5.7" height="5.7" fill="#8e8e8e"/>
<rect x="133.0" y="495.6" width="5.7" height="5.7" fill="#8e8e8e"/>
<rect x="137.7" y="489.0" width="5.7" height="5.7" fill="#8e8e8e"/>
<rect x="142.4" y="486.6" width="5.7" height="5.7" fill="#8e8e8e"/>
<rect x="147.1" y="487.0" width="5.7" height="5.7" fill="#8e8e8e"/>
<rect x="151.8" y="487.6" width="5.7" height="5.7" fill="#8e8e8e"/>
<rect x="156.5" y="487.8" width="5.7" height="5.7" fill="#8e8e8e"/>
<rect x="161.2" y="488.0" width="5.7" height="5.7" fill="#8e8e8e"/>
<rect x="165.9" y="488.9" width="5.7" height="5.7" fill="#8e8e8e"/>
<rect x="170.6" y="489.1" width="5.7" height="5.7" fill="#8e8e8e"/>
<rect x="175.4" y="490.0" width="5.7" height="5.7" fill="#8e8e8e"/>
<rect x="180.1" y="489.8" width="5.7" height="5.7" fill="#8e8e8e"/>
<rect x="184.8" y="490.0" width="5.7" height="5.7" fill="#8e8e8e"/>
<rect x="189.5" y="490.2" width="5.7" height="5.7" fill="#8e8e8e"/>
<rect x="194.2" y="490.4" width="5.7" height="5.7" fill="#8e8e8e"/>
<rect x="198.9" y="490.6" width="5.7" height="5.7" fill="#8e8e8e"/>
<rect x="203.6" y="490.7" width="5.7" height="5.7" fill="#8e8e8e"/>
<rect x="208.3" y="490.7" width="5.7" height="5.7" fill="#8e8e8e"/>
<rect x="213.0" y="491.3" width="5.7" height="5.7" fill="#8e8e8e"/>
<rect x="217.7" y="491.5" width="5.7" height="5.7" fill="#8e8e8e"/>
<rect x="222.5" y="491.3" width="5.7" height="5.7" fill="#8e8e8e"/>
<rect x="227.2" y="492.8" width="5.7" height="5.7" fill="#8e8e8e"/>
<rect x="231.9" y="449.7" width="5.7" height="5.7" fill="#8e8e8e"/>
<rect x="236.6" y="425.2" width="5.7" height="5.7" fill="#8e8e8e"/>
<rect x="241.3" y="432.4" width="5.7" height="5.7" fill="#8e8e8e"/>
<rect x="246.0" y="437.6" width="5.7" height="5.7" fill="#8e8e8e"/>
<rect x="250.7" y="452.7" width="5.7" height="5.7" fill="#8e8e8e"/>
<rect x="255.4" y="455.6" width="5.7" height="5.7" fill="#8e8e8e"/>
<rect x="260.1" y="457.8" width="5.7" height="5.7" fill="#8e8e8e"/>
<rect x="264.8" y="459.6" width="5.7" height="5.7" fill="#8e8e8e"/>
<rect x="269.5" y="461.3" width="5.7" height="5.7" fill="#8e8e8e"/>
<rect x="274.3" y="462.7" width="5.7" height="5.7" fill="#8e8e8e"/>
<rect x="279.0" y="462.9" width="5.7" height="5.7" fill="#8e8e8e"/>
<rect x="283.7" y="463.8" width="5.7" height="5.7" fill="#8e8e8e"/>
<rect x="288.4" y="463.5" width="5.7" height="5.7" fill="#8e8e8e"/>
<rect x="293.1" y="463.7" width="5.7" height="5.7" fill="#8e8e8e"/>
<rect x="297.8" y="463.4" width="5.7" height="5.7" fill="#8e8e8e"/>
<rect x="302.5" y="463.6" width="5.7" height="5.7" fill="#8e8e8e"/>
<rect x="307.2" y="464.2" width="5.7" height="5.7" fill="#8e8e8e"/>
<rect x="311.9" y="464.2" width="5.7" height="5.7" fill="#8e8e8e"/>
<rect x="316.6" y="464.3" width="5.7" height="5.7" fill="#8e8e8e"/>
<rect x="321.4" y="464.0" width="5.7" height="5.7" fill="#8e8e8e"/>
<rect x="326.1" y="339.4" width="5.7" height="5.7" fill="#8e8e8e"/>
<rect x="330.8" y="319.9" width="5.7" height="5.7" fill="#8e8e8e"/>
<rect x="335.5" y="333.6" width="5.7" height="5.7" fill="#8e8e8e"/>
<rect x="340.2" y="368.8" width="5.7" height="5.7" fill="#8e8e8e"/>
<rect x="344.9" y="364.5" width="5.7" height="5.7" fill="#8e8e8e"/>
<rect x="349.6" y="389.4" width="5.7" height="5.7" fill="#8e8e8e"/>
<rect x="354.3" y="398.7" width="5.7" height="5.7" fill="#8e8e8e"/>
<rect x="359.0" y="405.6" width="5.7" height="5.7" fill="#8e8e8e"/>
<rect x="363.7" y="406.7" width="5.7" height="5.7" fill="#8e8e8e"/>
<rect x="368.5" y="404.7" width="5.7" height="5.7" fill="#8e8e8e"/>
<rect x="373.2" y="402.0" width="5.7" height="5.7" fill="#8e8e8e"/>
<rect x="377.9" y="403.7" width="5.7" height="5.7" fill="#8e8e8e"/>
<rect x="382.6" y="405.5" width="5.7" height="5.7" fill="#8e8e8e"/>
<rect x="387.3" y="410.5" width="5.7" height="5.7" fill="#8e8e8e"/>
<rect x="392.0" y="412.8" width="5.7" height="5.7" fill="#8e8e8e"/>
<rect x="396.7" y="417.6" width="5.7" height="5.7" fill="#8e8e8e"/>
<rect x="401.4" y="422.8" width="5.7" height="5.7" fill="#8e8e8e"/>
<rect x="406.1" y="425.8" width="5.7" height="5.7" fill="#8e8e8e"/>
<polyline points="41.6,501.7 46.3,497.1 51.0,497.1 55.7,497.0 60.5,496.6 65.2,496.5 69.9,496.1 74.6,496.1 79.3,496.4 84.0,496.3 88.7,496.1 93.4,496.0 98.1,495.5 102.8,495.2 107.6,495.0 112.3,495.3 117.0,494.8 121.7,495.0 126.4,494.7 131.1,497.0 135.8,497.8 140.5,486.4 145.2,481.0 149.9,481.3 154.7,481.3 159.4,484.4 164.1,486.0 168.8,488.1 173.5,488.0 178.2,488.0 182.9,488.1 187.6,488.4 192.3,488.3 197.0,488.2 201.8,488.7 206.5,488.7 211.2,489.1 215.9,489.1 220.6,489.0 225.3,489.5 230.0,489.1 234.7,444.9 239.4,416.8 244.1,417.9 248.8,437.1 253.6,444.2 258.3,449.1 263.0,452.7 267.7,454.5 272.4,455.3 277.1,455.6 281.8,456.0 286.5,455.7 291.2,455.5 295.9,455.7 300.7,455.8 305.4,456.1 310.1,455.8 314.8,455.9 319.5,455.7 324.2,455.7 328.9,318.4 333.6,313.7 338.3,320.0 343.0,314.2 347.8,338.3 352.5,377.9 357.2,382.9 361.9,380.0 366.6,395.8 371.3,388.2 376.0,385.2 380.7,382.9 385.4,388.7 390.1,389.9 394.9,391.1 399.6,406.0 404.3,416.7 409.0,423.3" fill="none" stroke="#8e8e8e" stroke-width="1.2"/>
<rect x="38.8" y="498.9" width="5.7" height="5.7" fill="#8e8e8e"/>
<rect x="43.5" y="494.2" width="5.7" height="5.7" fill="#8e8e8e"/>
<rect x="48.2" y="494.3" width="5.7" height="5.7" fill="#8e8e8e"/>
<rect x="52.9" y="494.1" width="5.7" height="5.7" fill="#8e8e8e"/>
<rect x="57.6" y="493.7" width="5.7" height="5.7" fill="#8e8e8e"/>
<rect x="62.3" y="493.6" width="5.7" height="5.7" fill="#8e8e8e"/>
<rect x="67.0" y="493.3" width="5.7" height="5.7" fill="#8e8e8e"/>
<rect x="71.7" y="493.2" width="5.7" height="5.7" fill="#8e8e8e"/>
<rect x="76.4" y="493.5" width="5.7" height="5.7" fill="#8e8e8e"/>
<rect x="81.2" y="493.4" width="5.7" height="5.7" fill="#8e8e8e"/>
<rect x="85.9" y="493.2" width="5.7" height="5.7" fill="#8e8e8e"/>
<rect x="90.6" y="493.1" width="5.7" height="5.7" fill="#8e8e8e"/>
<rect x="95.3" y="492.6" width="5.7" height="5.7" fill="#8e8e8e"/>
<rect x="100.0" y="492.4" width="5.7" height="5.7" fill="#8e8e8e"/>
<rect x="104.7" y="492.2" width="5.7" height="5.7" fill="#8e8e8e"/>
<rect x="109.4" y="492.5" width="5.7" height="5.7" fill="#8e8e8e"/>
<rect x="114.1" y="491.9" width="5.7" height="5.7" fill="#8e8e8e"/>
<rect x="118.8" y="492.1" width="5.7" height="5.7" fill="#8e8e8e"/>
<rect x="123.5" y="491.9" width="5.7" height="5.7" fill="#8e8e8e"/>
<rect x="128.2" y="494.1" width="5.7" height="5.7" fill="#8e8e8e"/>
<rect x="133.0" y="495.0" width="5.7" height="5.7" fill="#8e8e8e"/>
<rect x="137.7" y="483.5" width="5.7" height="5.7" fill="#8e8e8e"/>
<rect x="142.4" y="478.1" width="5.7" height="5.7" fill="#8e8e8e"/>
<rect x="147.1" y="478.5" width="5.7" height="5.7" fill="#8e8e8e"/>
<rect x="151.8" y="478.4" width="5.7" height="5.7" fill="#8e8e8e"/>
<rect x="156.5" y="481.6" width="5.7" height="5.7" fill="#8e8e8e"/>
<rect x="161.2" y="483.1" width="5.7" height="5.7" fill="#8e8e8e"/>
<rect x="165.9" y="485.2" width="5.7" height="5.7" fill="#8e8e8e"/>
<rect x="170.6" y="485.1" width="5.7" height="5.7" fill="#8e8e8e"/>
<rect x="175.4" y="485.2" width="5.7" height="5.7" fill="#8e8e8e"/>
<rect x="180.1" y="485.3" width="5.7" height="5.7" fill="#8e8e8e"/>
<rect x="184.8" y="485.6" width="5.7" height="5.7" fill="#8e8e8e"/>
<rect x="189.5" y="485.5" width="5.7" height="5.7" fill="#8e8e8e"/>
<rect x="194.2" y="485.3" width="5.7" height="5.7" fill="#8e8e8e"/>
<rect x="198.9" y="485.8" width="5.7" height="5.7" fill="#8e8e8e"/>
<rect x="203.6" y="485.9" width="5.7" height="5.7" fill="#8e8e8e"/>
<rect x="208.3" y="486.3" width="5.7" height="5.7" fill="#8e8e8e"/>
<rect x="213.0" y="486.3" width="5.7" height="5.7" fill="#8e8e8e"/>
<rect x="217.7" y="486.2" width="5.7" height="5.7" fill="#8e8e8e"/>
<rect x="222.5" y="486.6" width="5.7" height="5.7" fill="#8e8e8e"/>
<rect x="227.2" y="486.3" width="5.7" height="5.7" fill="#8e8e8e"/>
<rect x="231.9" y="442.1" width="5.7" height="5.7" fill="#8e8e8e"/>
<rect x="236.6" y="414.0" width="5.7" height="5.7" fill="#8e8e8e"/>
<rect x="241.3" y="415.1" width="5.7" height="5.7" fill="#8e8e8e"/>
<rect x="246.0" y="434.3" width="5.7" height="5.7" fill="#8e8e8e"/>
<rect x="250.7" y="441.4" width="5.7" height="5.7" fill="#8e8e8e"/>
<rect x="255.4" y="446.3" width="5.7" height="5.7" fill="#8e8e8e"/>
<rect x="260.1" y="449.8" width="5.7" height="5.7" fill="#8e8e8e"/>
<rect x="264.8" y="451.6" width="5.7" height="5.7" fill="#8e8e8e"/>
<rect x="269.5" y="452.5" width="5.7" height="5.7" fill="#8e8e8e"/>
<rect x="274.3" y="452.8" width="5.7" height="5.7" fill="#8e8e8e"/>
<rect x="279.0" y="453.1" width="5.7" height="5.7" fill="#8e8e8e"/>
<rect x="283.7" y="452.8" width="5.7" height="5.7" fill="#8e8e8e"/>
<rect x="288.4" y="452.7" width="5.7" height="5.7" fill="#8e8e8e"/>
<rect x="293.1" y="452.9" width="5.7" height="5.7" fill="#8e8e8e"/>
<rect x="297.8" y="453.0" width="5.7" height="5.7" fill="#8e8e8e"/>
<rect x="302.5" y="453.2" width="5.7" height="5.7" fill="#8e8e8e"/>
<rect x="307.2" y="453.0" width="5.7" height="5.7" fill="#8e8e8e"/>
<rect x="311.9" y="453.1" width="5.7" height="5.7" fill="#8e8e8e"/>
<rect x="316.6" y="452.8" width="5.7" height="5.7" fill="#8e8e8e"/>
<rect x="321.4" y="452.9" width="5.7" height="5.7" fill="#8e8e8e"/>
<rect x="326.1" y="315.5" width="5.7" height="5.7" fill="#8e8e8e"/>
<rect x="330.8" y="310.9" width="5.7" height="5.7" fill="#8e8e8e"/>
<rect x="335.5" y="317.1" width="5.7" height="5.7" fill="#8e8e8e"/>
<rect x="340.2" y="311.4" width="5.7" height="5.7" fill="#8e8e8e"/>
<rect x="344.9" y="335.4" width="5.7" height="5.7" fill="#8e8e8e"/>
<rect x="349.6" y="375.0" width="5.7" height="5.7" fill="#8e8e8e"/>
<rect x="354.3" y="380.1" width="5.7" height="5.7" fill="#8e8e8e"/>
<rect x="359.0" y="377.2" width="5.7" height="5.7" fill="#8e8e8e"/>
<rect x="363.7" y="393.0" width="5.7" height="5.7" fill="#8e8e8e"/>
<rect x="368.5" y="385.3" width="5.7" height="5.7" fill="#8e8e8e"/>
<rect x="373.2" y="382.3" width="5.7" height="5.7" fill="#8e8e8e"/>
<rect x="377.9" y="380.0" width="5.7" height="5.7" fill="#8e8e8e"/>
<rect x="382.6" y="385.8" width="5.7" height="5.7" fill="#8e8e8e"/>
<rect x="387.3" y="387.1" width="5.7" height="5.7" fill="#8e8e8e"/>
<rect x="392.0" y="388.3" width="5.7" height="5.7" fill="#8e8e8e"/>
<rect x="396.7" y="403.1" width="5.7" height="5.7" fill="#8e8e8e"/>
<rect x="401.4" y="413.8" width="5.7" height="5.7" fill="#8e8e8e"/>
<rect x="406.1" y="420.5" width="5.7" height="5.7" fill="#8e8e8e"/>
<polyline points="41.6,504.0 46.3,499.5 51.0,499.3 55.7,499.4 60.5,499.1 65.2,499.3 69.9,499.2 74.6,499.1 79.3,498.6 84.0,499.1 88.7,498.7 93.4,498.8 98.1,498.3 102.8,498.5 107.6,498.4 112.3,498.3 117.0,498.1 121.7,497.9 126.4,498.1 131.1,499.8 135.8,500.3 140.5,496.9 145.2,493.7 149.9,494.1 154.7,494.3 159.4,494.9 164.1,495.3 168.8,495.3 173.5,495.2 178.2,494.9 182.9,494.9 187.6,494.9 192.3,495.0 197.0,495.3 201.8,495.2 206.5,495.3 211.2,495.1 215.9,495.1 220.6,495.3 225.3,495.3 230.0,498.2 234.7,474.1 239.4,441.7 244.1,453.1 248.8,453.1 253.6,451.0 258.3,463.2 263.0,464.8 267.7,457.4 272.4,463.7 277.1,472.1 281.8,469.9 286.5,467.1 291.2,472.2 295.9,477.4 300.7,470.4 305.4,467.2 310.1,472.0 314.8,477.4 319.5,474.7 324.2,482.8 328.9,364.2 333.6,331.7 338.3,346.2 343.0,374.3 347.8,406.8 352.5,405.8 357.2,412.5 361.9,432.9 366.6,429.4 371.3,426.9 376.0,429.1 380.7,432.7 385.4,428.8 390.1,421.0 394.9,433.8 399.6,426.6 404.3,445.5 409.0,457.4" fill="none" stroke="#000" stroke-width="1.2" stroke-dasharray="1.4 2.4"/>
<path d="M41.6 500.5L45.1 507.4H38.2Z" fill="#000"/>
<path d="M46.3 496.0L49.8 502.9H42.9Z" fill="#000"/>
<path d="M51.0 495.9L54.5 502.8H47.6Z" fill="#000"/>
<path d="M55.7 495.9L59.2 502.8H52.3Z" fill="#000"/>
<path d="M60.5 495.7L63.9 502.6H57.0Z" fill="#000"/>
<path d="M65.2 495.8L68.6 502.7H61.7Z" fill="#000"/>
<path d="M69.9 495.8L73.3 502.7H66.4Z" fill="#000"/>
<path d="M74.6 495.6L78.0 502.5H71.1Z" fill="#000"/>
<path d="M79.3 495.2L82.7 502.1H75.8Z" fill="#000"/>
<path d="M84.0 495.6L87.5 502.5H80.5Z" fill="#000"/>
<path d="M88.7 495.2L92.2 502.1H85.3Z" fill="#000"/>
<path d="M93.4 495.3L96.9 502.2H90.0Z" fill="#000"/>
<path d="M98.1 494.9L101.6 501.8H94.7Z" fill="#000"/>
<path d="M102.8 495.1L106.3 502.0H99.4Z" fill="#000"/>
<path d="M107.6 495.0L111.0 501.9H104.1Z" fill="#000"/>
<path d="M112.3 494.8L115.7 501.7H108.8Z" fill="#000"/>
<path d="M117.0 494.7L120.4 501.6H113.5Z" fill="#000"/>
<path d="M121.7 494.4L125.1 501.3H118.2Z" fill="#000"/>
<path d="M126.4 494.6L129.8 501.5H122.9Z" fill="#000"/>
<path d="M131.1 496.3L134.5 503.2H127.6Z" fill="#000"/>
<path d="M135.8 496.8L139.3 503.7H132.4Z" fill="#000"/>
<path d="M140.5 493.4L144.0 500.3H137.1Z" fill="#000"/>
<path d="M145.2 490.3L148.7 497.2H141.8Z" fill="#000"/>
<path d="M149.9 490.7L153.4 497.6H146.5Z" fill="#000"/>
<path d="M154.7 490.9L158.1 497.8H151.2Z" fill="#000"/>
<path d="M159.4 491.5L162.8 498.4H155.9Z" fill="#000"/>
<path d="M164.1 491.9L167.5 498.8H160.6Z" fill="#000"/>
<path d="M168.8 491.9L172.2 498.8H165.3Z" fill="#000"/>
<path d="M173.5 491.7L176.9 498.6H170.0Z" fill="#000"/>
<path d="M178.2 491.5L181.7 498.4H174.8Z" fill="#000"/>
<path d="M182.9 491.4L186.4 498.3H179.5Z" fill="#000"/>
<path d="M187.6 491.5L191.1 498.4H184.2Z" fill="#000"/>
<path d="M192.3 491.6L195.8 498.5H188.9Z" fill="#000"/>
<path d="M197.0 491.9L200.5 498.8H193.6Z" fill="#000"/>
<path d="M201.8 491.7L205.2 498.6H198.3Z" fill="#000"/>
<path d="M206.5 491.8L209.9 498.7H203.0Z" fill="#000"/>
<path d="M211.2 491.6L214.6 498.5H207.7Z" fill="#000"/>
<path d="M215.9 491.6L219.3 498.5H212.4Z" fill="#000"/>
<path d="M220.6 491.8L224.0 498.7H217.1Z" fill="#000"/>
<path d="M225.3 491.8L228.8 498.7H221.9Z" fill="#000"/>
<path d="M230.0 494.7L233.5 501.6H226.6Z" fill="#000"/>
<path d="M234.7 470.7L238.2 477.6H231.3Z" fill="#000"/>
<path d="M239.4 438.3L242.9 445.2H236.0Z" fill="#000"/>
<path d="M244.1 449.7L247.6 456.6H240.7Z" fill="#000"/>
<path d="M248.8 449.6L252.3 456.5H245.4Z" fill="#000"/>
<path d="M253.6 447.6L257.0 454.5H250.1Z" fill="#000"/>
<path d="M258.3 459.7L261.7 466.6H254.8Z" fill="#000"/>
<path d="M263.0 461.3L266.4 468.2H259.5Z" fill="#000"/>
<path d="M267.7 453.9L271.1 460.8H264.2Z" fill="#000"/>
<path d="M272.4 460.3L275.8 467.2H268.9Z" fill="#000"/>
<path d="M277.1 468.6L280.6 475.5H273.7Z" fill="#000"/>
<path d="M281.8 466.4L285.3 473.3H278.4Z" fill="#000"/>
<path d="M286.5 463.6L290.0 470.5H283.1Z" fill="#000"/>
<path d="M291.2 468.8L294.7 475.7H287.8Z" fill="#000"/>
<path d="M295.9 474.0L299.4 480.9H292.5Z" fill="#000"/>
<path d="M300.7 467.0L304.1 473.9H297.2Z" fill="#000"/>
<path d="M305.4 463.8L308.8 470.7H301.9Z" fill="#000"/>
<path d="M310.1 468.6L313.5 475.5H306.6Z" fill="#000"/>
<path d="M314.8 474.0L318.2 480.9H311.3Z" fill="#000"/>
<path d="M319.5 471.2L322.9 478.1H316.1Z" fill="#000"/>
<path d="M324.2 479.4L327.7 486.3H320.8Z" fill="#000"/>
<path d="M328.9 360.8L332.4 367.7H325.5Z" fill="#000"/>
<path d="M333.6 328.2L337.1 335.1H330.2Z" fill="#000"/>
<path d="M338.3 342.8L341.8 349.7H334.9Z" fill="#000"/>
<path d="M343.0 370.9L346.5 377.8H339.6Z" fill="#000"/>
<path d="M347.8 403.3L351.2 410.2H344.3Z" fill="#000"/>
<path d="M352.5 402.4L355.9 409.3H349.0Z" fill="#000"/>
<path d="M357.2 409.1L360.6 416.0H353.7Z" fill="#000"/>
<path d="M361.9 429.4L365.3 436.3H358.4Z" fill="#000"/>
<path d="M366.6 425.9L370.0 432.8H363.1Z" fill="#000"/>
<path d="M371.3 423.5L374.8 430.4H367.9Z" fill="#000"/>
<path d="M376.0 425.6L379.5 432.5H372.6Z" fill="#000"/>
<path d="M380.7 429.3L384.2 436.2H377.3Z" fill="#000"/>
<path d="M385.4 425.3L388.9 432.2H382.0Z" fill="#000"/>
<path d="M390.1 417.5L393.6 424.4H386.7Z" fill="#000"/>
<path d="M394.9 430.4L398.3 437.3H391.4Z" fill="#000"/>
<path d="M399.6 423.1L403.0 430.0H396.1Z" fill="#000"/>
<path d="M404.3 442.0L407.7 448.9H400.8Z" fill="#000"/>
<path d="M409.0 454.0L412.4 460.9H405.5Z" fill="#000"/>
<polyline points="41.6,502.2 46.3,498.1 51.0,497.6 55.7,497.6 60.5,497.8 65.2,497.2 69.9,497.2 74.6,496.9 79.3,496.9 84.0,496.7 88.7,496.8 93.4,496.4 98.1,496.2 102.8,496.0 107.6,496.2 112.3,495.8 117.0,495.8 121.7,495.9 126.4,495.8 131.1,499.1 135.8,499.4 140.5,487.1 145.2,481.2 149.9,486.0 154.7,487.7 159.4,487.9 164.1,487.8 168.8,488.2 173.5,488.2 178.2,488.1 182.9,488.4 187.6,488.7 192.3,488.3 197.0,488.5 201.8,488.8 206.5,488.9 211.2,488.9 215.9,489.0 220.6,489.3 225.3,489.6 230.0,489.6 234.7,396.8 239.4,373.4 244.1,397.0 248.8,421.7 253.6,418.8 258.3,418.8 263.0,432.2 267.7,425.8 272.4,436.5 277.1,434.8 281.8,440.1 286.5,441.1 291.2,455.3 295.9,441.4 300.7,455.9 305.4,451.0 310.1,436.1 314.8,452.9 319.5,455.9 324.2,455.9 328.9,315.4 333.6,296.0 338.3,335.0 343.0,360.4 347.8,381.4 352.5,400.4 357.2,408.3 361.9,391.3 366.6,402.9 371.3,398.0 376.0,407.4 380.7,401.2 385.4,410.7 390.1,414.5 394.9,426.1 399.6,414.7 404.3,441.3 409.0,421.6" fill="none" stroke="#000" stroke-width="1.2"/>
<path d="M41.6 498.7L45.1 505.6H38.2Z" fill="#000"/>
<path d="M46.3 494.6L49.8 501.5H42.9Z" fill="#000"/>
<path d="M51.0 494.1L54.5 501.0H47.6Z" fill="#000"/>
<path d="M55.7 494.1L59.2 501.0H52.3Z" fill="#000"/>
<path d="M60.5 494.4L63.9 501.3H57.0Z" fill="#000"/>
<path d="M65.2 493.7L68.6 500.6H61.7Z" fill="#000"/>
<path d="M69.9 493.8L73.3 500.7H66.4Z" fill="#000"/>
<path d="M74.6 493.4L78.0 500.3H71.1Z" fill="#000"/>
<path d="M79.3 493.4L82.7 500.3H75.8Z" fill="#000"/>
<path d="M84.0 493.3L87.5 500.2H80.5Z" fill="#000"/>
<path d="M88.7 493.4L92.2 500.3H85.3Z" fill="#000"/>
<path d="M93.4 492.9L96.9 499.8H90.0Z" fill="#000"/>
<path d="M98.1 492.7L101.6 499.6H94.7Z" fill="#000"/>
<path d="M102.8 492.6L106.3 499.5H99.4Z" fill="#000"/>
<path d="M107.6 492.7L111.0 499.6H104.1Z" fill="#000"/>
<path d="M112.3 492.4L115.7 499.3H108.8Z" fill="#000"/>
<path d="M117.0 492.4L120.4 499.3H113.5Z" fill="#000"/>
<path d="M121.7 492.5L125.1 499.4H118.2Z" fill="#000"/>
<path d="M126.4 492.4L129.8 499.3H122.9Z" fill="#000"/>
<path d="M131.1 495.6L134.5 502.5H127.6Z" fill="#000"/>
<path d="M135.8 495.9L139.3 502.8H132.4Z" fill="#000"/>
<path d="M140.5 483.7L144.0 490.6H137.1Z" fill="#000"/>
<path d="M145.2 477.7L148.7 484.6H141.8Z" fill="#000"/>
<path d="M149.9 482.5L153.4 489.4H146.5Z" fill="#000"/>
<path d="M154.7 484.3L158.1 491.2H151.2Z" fill="#000"/>
<path d="M159.4 484.4L162.8 491.3H155.9Z" fill="#000"/>
<path d="M164.1 484.4L167.5 491.3H160.6Z" fill="#000"/>
<path d="M168.8 484.7L172.2 491.6H165.3Z" fill="#000"/>
<path d="M173.5 484.7L176.9 491.6H170.0Z" fill="#000"/>
<path d="M178.2 484.6L181.7 491.5H174.8Z" fill="#000"/>
<path d="M182.9 485.0L186.4 491.9H179.5Z" fill="#000"/>
<path d="M187.6 485.2L191.1 492.1H184.2Z" fill="#000"/>
<path d="M192.3 484.8L195.8 491.7H188.9Z" fill="#000"/>
<path d="M197.0 485.1L200.5 492.0H193.6Z" fill="#000"/>
<path d="M201.8 485.4L205.2 492.3H198.3Z" fill="#000"/>
<path d="M206.5 485.5L209.9 492.4H203.0Z" fill="#000"/>
<path d="M211.2 485.5L214.6 492.4H207.7Z" fill="#000"/>
<path d="M215.9 485.6L219.3 492.5H212.4Z" fill="#000"/>
<path d="M220.6 485.9L224.0 492.8H217.1Z" fill="#000"/>
<path d="M225.3 486.1L228.8 493.0H221.9Z" fill="#000"/>
<path d="M230.0 486.1L233.5 493.0H226.6Z" fill="#000"/>
<path d="M234.7 393.3L238.2 400.2H231.3Z" fill="#000"/>
<path d="M239.4 370.0L242.9 376.9H236.0Z" fill="#000"/>
<path d="M244.1 393.5L247.6 400.4H240.7Z" fill="#000"/>
<path d="M248.8 418.2L252.3 425.1H245.4Z" fill="#000"/>
<path d="M253.6 415.4L257.0 422.3H250.1Z" fill="#000"/>
<path d="M258.3 415.4L261.7 422.3H254.8Z" fill="#000"/>
<path d="M263.0 428.7L266.4 435.6H259.5Z" fill="#000"/>
<path d="M267.7 422.3L271.1 429.2H264.2Z" fill="#000"/>
<path d="M272.4 433.1L275.8 440.0H268.9Z" fill="#000"/>
<path d="M277.1 431.4L280.6 438.3H273.7Z" fill="#000"/>
<path d="M281.8 436.7L285.3 443.6H278.4Z" fill="#000"/>
<path d="M286.5 437.7L290.0 444.6H283.1Z" fill="#000"/>
<path d="M291.2 451.9L294.7 458.8H287.8Z" fill="#000"/>
<path d="M295.9 438.0L299.4 444.9H292.5Z" fill="#000"/>
<path d="M300.7 452.4L304.1 459.3H297.2Z" fill="#000"/>
<path d="M305.4 447.5L308.8 454.4H301.9Z" fill="#000"/>
<path d="M310.1 432.6L313.5 439.5H306.6Z" fill="#000"/>
<path d="M314.8 449.4L318.2 456.3H311.3Z" fill="#000"/>
<path d="M319.5 452.4L322.9 459.3H316.1Z" fill="#000"/>
<path d="M324.2 452.5L327.7 459.4H320.8Z" fill="#000"/>
<path d="M328.9 312.0L332.4 318.9H325.5Z" fill="#000"/>
<path d="M333.6 292.6L337.1 299.5H330.2Z" fill="#000"/>
<path d="M338.3 331.5L341.8 338.4H334.9Z" fill="#000"/>
<path d="M343.0 356.9L346.5 363.8H339.6Z" fill="#000"/>
<path d="M347.8 378.0L351.2 384.9H344.3Z" fill="#000"/>
<path d="M352.5 397.0L355.9 403.9H349.0Z" fill="#000"/>
<path d="M357.2 404.9L360.6 411.8H353.7Z" fill="#000"/>
<path d="M361.9 387.9L365.3 394.8H358.4Z" fill="#000"/>
<path d="M366.6 399.5L370.0 406.4H363.1Z" fill="#000"/>
<path d="M371.3 394.6L374.8 401.5H367.9Z" fill="#000"/>
<path d="M376.0 404.0L379.5 410.9H372.6Z" fill="#000"/>
<path d="M380.7 397.7L384.2 404.6H377.3Z" fill="#000"/>
<path d="M385.4 407.2L388.9 414.1H382.0Z" fill="#000"/>
<path d="M390.1 411.1L393.6 418.0H386.7Z" fill="#000"/>
<path d="M394.9 422.7L398.3 429.6H391.4Z" fill="#000"/>
<path d="M399.6 411.2L403.0 418.1H396.1Z" fill="#000"/>
<path d="M404.3 437.8L407.7 444.7H400.8Z" fill="#000"/>
<path d="M409.0 418.2L412.4 425.1H405.5Z" fill="#000"/>
<path d="M240.3 342.6L240.30 339.60M240.3 342.6L243.15 341.67M240.3 342.6L242.06 345.03M240.3 342.6L238.54 345.03M240.3 342.6L237.45 341.67" stroke="#000" stroke-width="1.5" fill="none"/>
<text x="0.3" y="11.8" font-size="14.5" font-family="Liberation Sans, sans-serif">C</text>
</svg>
</body></html>
